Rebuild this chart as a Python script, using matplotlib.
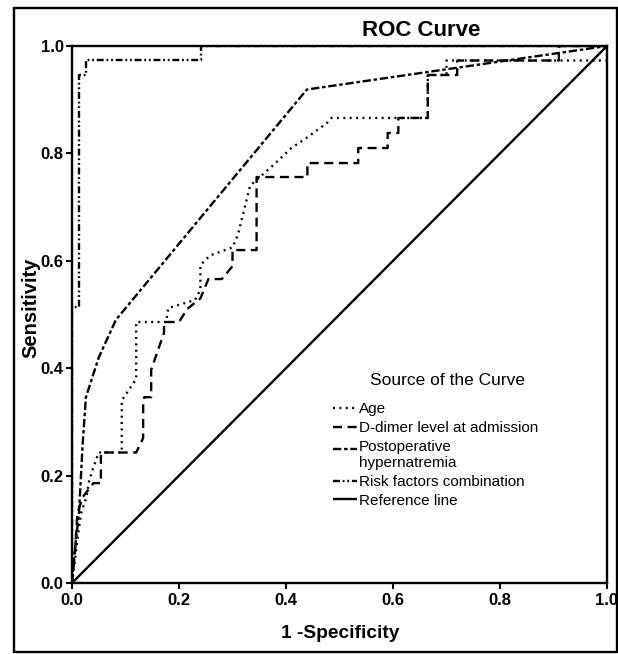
import matplotlib
matplotlib.use("Agg")
import matplotlib.pyplot as plt
from matplotlib.patches import Rectangle
from matplotlib.legend_handler import HandlerLine2D

plt.rcParams['font.family'] = ['Liberation Sans', 'DejaVu Sans']
plt.rcParams['lines.scale_dashes'] = False

# ---- data ----
age_x = [0, 0.004, 0.010, 0.017, 0.027, 0.032, 0.040, 0.050, 0.093, 0.093, 0.120, 0.120,
         0.176, 0.180, 0.230, 0.240, 0.240, 0.258, 0.300, 0.310, 0.333, 0.376, 0.410,
         0.440, 0.477, 0.485, 0.665, 0.665, 0.700, 0.700, 1.0, 1.0]
age_y = [0, 0.030, 0.080, 0.130, 0.160, 0.190, 0.215, 0.243, 0.243, 0.340, 0.380, 0.486,
         0.486, 0.512, 0.527, 0.546, 0.592, 0.610, 0.625, 0.648, 0.740, 0.778, 0.810,
         0.830, 0.857, 0.866, 0.866, 0.946, 0.946, 0.973, 0.973, 1.0]

ddimer_x = [0, 0.005, 0.010, 0.020, 0.040, 0.054, 0.054, 0.120, 0.133, 0.133, 0.135, 0.148,
            0.148, 0.172, 0.172, 0.200, 0.215, 0.240, 0.255, 0.280, 0.300, 0.300, 0.345,
            0.345, 0.440, 0.440, 0.535, 0.535, 0.590, 0.590, 0.610, 0.610, 0.665, 0.665,
            0.720, 0.720, 0.910, 0.910, 1.0]
ddimer_y = [0, 0.050, 0.130, 0.160, 0.186, 0.186, 0.243, 0.243, 0.270, 0.330, 0.346, 0.346,
            0.397, 0.466, 0.486, 0.486, 0.510, 0.530, 0.566, 0.566, 0.590, 0.620, 0.620,
            0.756, 0.756, 0.782, 0.782, 0.810, 0.810, 0.838, 0.838, 0.866, 0.866, 0.946,
            0.946, 0.973, 0.973, 1.0, 1.0]

postop_x = [0, 0.004, 0.013, 0.020, 0.026, 0.050, 0.082, 0.439, 1.0]
postop_y = [0, 0.050, 0.130, 0.260, 0.346, 0.420, 0.490, 0.919, 1.0]

risk_x = [0, 0, 0.013, 0.013, 0.027, 0.027, 0.242, 0.242, 1.0]
risk_y = [0, 0.514, 0.514, 0.946, 0.946, 0.973, 0.973, 1.0, 1.0]

ref_x = [0, 1]
ref_y = [0, 1]

x_ticks = [0.0, 0.2, 0.4, 0.6, 0.8, 1.0]
y_ticks = [0.0, 0.2, 0.4, 0.6, 0.8, 1.0]

labels = ["Age", "D-dimer level at admission", "Postoperative\nhypernatremia",
          "Risk factors combination", "Reference line"]


class HandlerShift(HandlerLine2D):
    """Line handle placed level with the first line of a two-line label."""
    def __init__(self, shift, **kw):
        super().__init__(**kw)
        self.shift = shift

    def create_artists(self, legend, orig_handle, xdescent, ydescent,
                       width, height, fontsize, trans):
        arts = super().create_artists(legend, orig_handle, xdescent, ydescent,
                                      width, height, fontsize, trans)
        for a in arts:
            a.set_ydata([y + self.shift for y in a.get_ydata()])
        return arts


# ---- figure ----
W, H = 618, 654
fig = plt.figure(figsize=(W / 100, H / 100), dpi=100)
ax = fig.add_axes([72 / W, 1 - 583 / H, 535 / W, 537 / H])

lw = 1.7
styles = [
    dict(dashes=(1.4, 3.2)),
    dict(dashes=(6.5, 4.0)),
    dict(dashes=(6.0, 2.0, 2.5, 2.0)),
    dict(dashes=(5.0, 2.0, 1.3, 2.0, 1.3, 2.0)),
    dict(linestyle='-'),
]
series = [(age_x, age_y), (ddimer_x, ddimer_y), (postop_x, postop_y),
          (risk_x, risk_y), (ref_x, ref_y)]
handles = []
for (xs, ys), st, lab in zip(series, styles, labels):
    h, = ax.plot(xs, ys, color='black', lw=lw, label=lab,
                 solid_capstyle='butt', dash_capstyle='butt', **st)
    handles.append(h)

ax.set_xlim(0, 1)
ax.set_ylim(0, 1)
ax.set_xticks(x_ticks)
ax.set_yticks(y_ticks)
ax.set_xticklabels([f"{v:.1f}" for v in x_ticks], fontsize=12, fontweight='bold')
ax.set_yticklabels([f"{v:.1f}" for v in y_ticks], fontsize=12, fontweight='bold')
ax.tick_params(direction='out', length=4.5, width=1.5, pad=1.5)
ax.tick_params(axis='x', pad=3)
for sp in ax.spines.values():
    sp.set_linewidth(1.7)

fig.text(340 / W, 1 - 633 / H, "1 -Specificity", ha='center', va='center',
         fontsize=13.8, fontweight='bold')
fig.text(31 / W, 1 - 308 / H, "Sensitivity", ha='center', va='center',
         rotation=90, fontsize=14.5, fontweight='bold')
fig.text(421 / W, 1 - 30 / H, "ROC Curve", ha='center', va='center',
         fontsize=16, fontweight='bold')

fig.text(370 / W, 1 - 381 / H, "Source of the Curve", ha='left', va='center',
         fontsize=12.5)
leg = ax.legend(handles=handles, loc='upper left',
                bbox_to_anchor=(333 / W, 1 - 402 / H), bbox_transform=fig.transFigure,
                frameon=False, fontsize=11, handlelength=1.55, handletextpad=0.15,
                labelspacing=0.32, borderpad=0, borderaxespad=0,
                handler_map={handles[2]: HandlerShift(4.5)})

fig.patches.append(Rectangle((14 / W, 2 / H), (617 - 14) / W, (652 - 8) / H,
                             transform=fig.transFigure, fill=False,
                             edgecolor='black', linewidth=1.7))

fig.savefig("out.png", dpi=100)
